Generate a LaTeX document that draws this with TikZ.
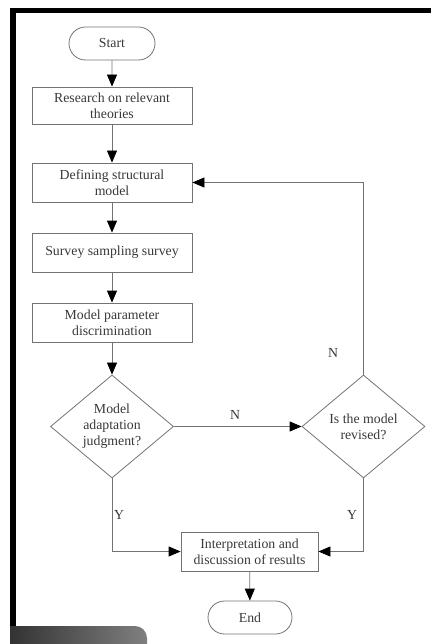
\documentclass[tikz,border=0pt]{standalone}
\usepackage{fontspec}
\setmainfont{Liberation Serif}
\usetikzlibrary{shapes.geometric,shapes.misc,arrows.meta}
\begin{document}
\begin{tikzpicture}[x=1pt,y=-1pt,
  every node/.style={font=\fontsize{13.8}{16}\selectfont, text=black!78},
  box/.style={draw=black!55, line width=0.8pt, rectangle, inner sep=1pt, align=center},
  term/.style={draw=black!55, line width=0.8pt, rounded rectangle, minimum width=88pt, minimum height=33pt, inner sep=1pt},
  dec/.style={draw=black!55, line width=0.8pt, diamond, minimum width=123pt, minimum height=103pt, inner sep=0pt, align=center},
  flow/.style={draw=black!55, line width=0.8pt, -{Triangle[length=12pt,width=10pt,fill=black,color=black]}},
  lab/.style={font=\fontsize{13.8}{16}\selectfont}
]
\useasboundingbox (0,0) rectangle (431,644);
% frame
\fill[black] (10,8) rectangle (431,13);
\fill[black] (10,8) rectangle (16,626);
\shade[left color=black!80, right color=black!50] (10,644) -- (10,626) [rounded corners=12pt] -- (147,626) [sharp corners] -- (147,644) -- cycle;
% nodes
\node[term] (start) at (112,43.5) {Start};
\node[box, minimum width=160pt, minimum height=37pt] (r1) at (112,105.5) {Research on relevant\\theories};
\node[box, minimum width=160pt, minimum height=39pt] (r2) at (112,182.5) {Defining structural\\model};
\node[box, minimum width=160pt, minimum height=39pt] (r3) at (112,252.5) {Survey sampling survey};
\node[box, minimum width=160pt, minimum height=39pt] (r4) at (112,322.5) {Model parameter\\discrimination};
\node[dec] (d1) at (112,426.5) {Model\\adaptation\\judgment?};
\node[dec] (d2) at (363.5,426.5) {Is the model\\revised?};
\node[box, minimum width=137pt, minimum height=39pt] (r5) at (249.5,551.5) {Interpretation and\\discussion of results};
\node[term, minimum width=86pt] (end) at (250,617.5) {End};
% connectors
\draw[flow] (start) -- (r1);
\draw[flow] (r1) -- (r2);
\draw[flow] (r2) -- (r3);
\draw[flow] (r3) -- (r4);
\draw[flow] (r4) -- (d1);
\draw[flow] (d1.east) -- (d2.west);
\draw[flow] (d2.north) |- (r2.east);
\draw[flow] (d1.south) |- (r5.west);
\draw[flow] (d2.south) |- (r5.east);
\draw[flow] (r5) -- (end);
% labels
\node[lab] (ln1) at (235,415) {N};
\node[lab] (ln2) at (333,353) {N};
\node[lab] (ly1) at (119,515) {Y};
\node[lab] (ly2) at (352,515) {Y};
\end{tikzpicture}
\end{document}
